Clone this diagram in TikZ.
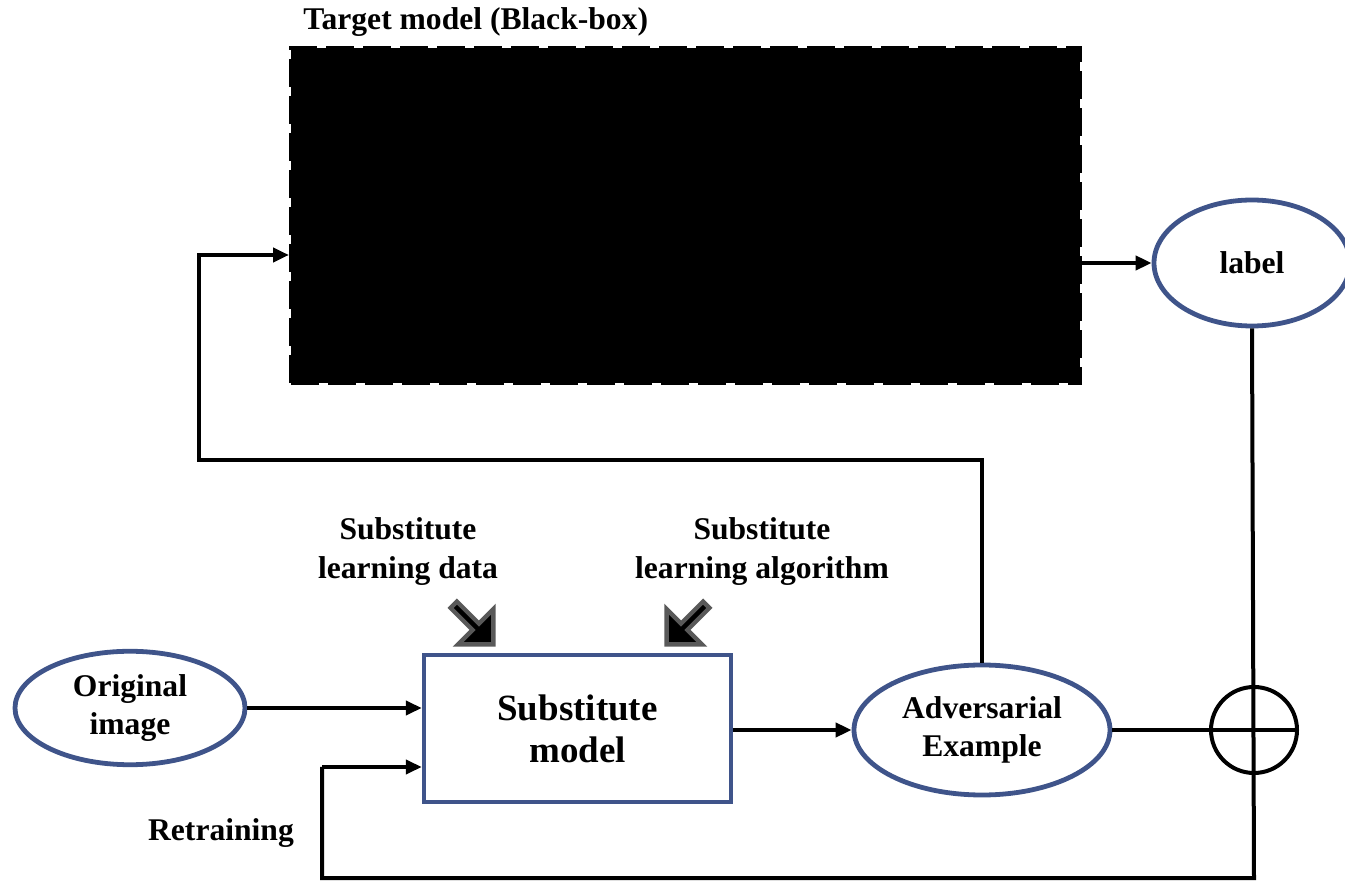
\documentclass[tikz,border=0pt]{standalone}
\usepackage{fontspec}
\setmainfont{Liberation Serif}
\usetikzlibrary{shapes.geometric,shapes.arrows,arrows.meta}
\definecolor{boxblue}{RGB}{63,84,138}
\begin{document}
\begin{tikzpicture}[x=0.5pt,y=-0.5pt,
	>={Triangle[length=8pt,width=7pt]},
	wire/.style={line width=2pt},
	blueoval/.style={ellipse, draw=boxblue, line width=2.4pt, align=center, font=\fontsize{15.8}{19}\selectfont\bfseries},
	caption/.style={align=center, font=\fontsize{15.8}{19.5}\selectfont\bfseries},
	fatarrow/.style={single arrow, fill=black, draw=black!65, line width=2.2pt, inner sep=0pt, minimum width=25pt, minimum height=28pt, single arrow head extend=5pt}]
	\useasboundingbox (0,0) rectangle (1345,881);

	\draw (685.5,215.5) node[rectangle, fill=black, draw=black, line width=2pt, dash pattern=on 14pt off 4.5pt, minimum width=394.5pt, minimum height=167.5pt] (blackbox) {};
	\draw (303,22) node[anchor=west, caption, inner sep=0pt] (title) {Target model (Black-box)};

	\draw (1252,263) node[blueoval, minimum width=98pt, minimum height=63pt] (label) {label};

	\draw (130,708) node[blueoval, minimum width=115pt, minimum height=50pt] (original)
	{
		Original \\
		image
	};

	\draw (577.5,728.5) node[rectangle, draw=boxblue, line width=2.2pt, minimum width=153.5pt, minimum height=73.5pt, align=center, font=\fontsize{18.5}{21}\selectfont\bfseries] (substitute)
	{
		Substitute \\
		model
	};

	\draw (982,730) node[blueoval, minimum width=128pt, minimum height=65pt] (adversarial)
	{
		Adversarial \\
		Example
	};

	\draw (1254,730) node[circle, draw=black, line width=2pt, minimum size=43pt, inner sep=0pt] (sum) {};

	\draw (408,552) node[caption] (learndata)
	{
		Substitute \\
		learning data
	};

	\draw (762,552) node[caption] (learnalgo)
	{
		Substitute \\
		learning algorithm
	};

	\draw (221,833) node[caption] (retraining) {Retraining};

	\draw (472,623) node[fatarrow, rotate=-45] (dataarrow) {};
	\draw (688,623) node[fatarrow, rotate=-135] (algoarrow) {};

	\coordinate (querytop) at (978,460);
	\coordinate (queryleft) at (199,460);
	\coordinate (queryin) at (199,255);
	\coordinate (loopright) at (1254,878);
	\coordinate (loopleft) at (322,878);
	\coordinate (loopin) at (322,767);

	\draw [->, wire] (blackbox.east |- label.west) -- (label.west);
	\draw [->, wire] (original.east) -- (original.east -| substitute.west);
	\draw [->, wire] (substitute.east |- adversarial.west) -- (adversarial.west);
	\draw [wire] (adversarial.east) -- (sum.east);
	\draw [wire] (label.south) -- (loopright) -- (loopleft) -- (loopin);
	\draw [->, wire] (loopin) -- (loopin -| substitute.west);
	\draw [->, wire] (adversarial.north) -- (adversarial.north |- querytop) -- (queryleft) -- (queryin) -- (queryin -| blackbox.west);
\end{tikzpicture}
\end{document}
